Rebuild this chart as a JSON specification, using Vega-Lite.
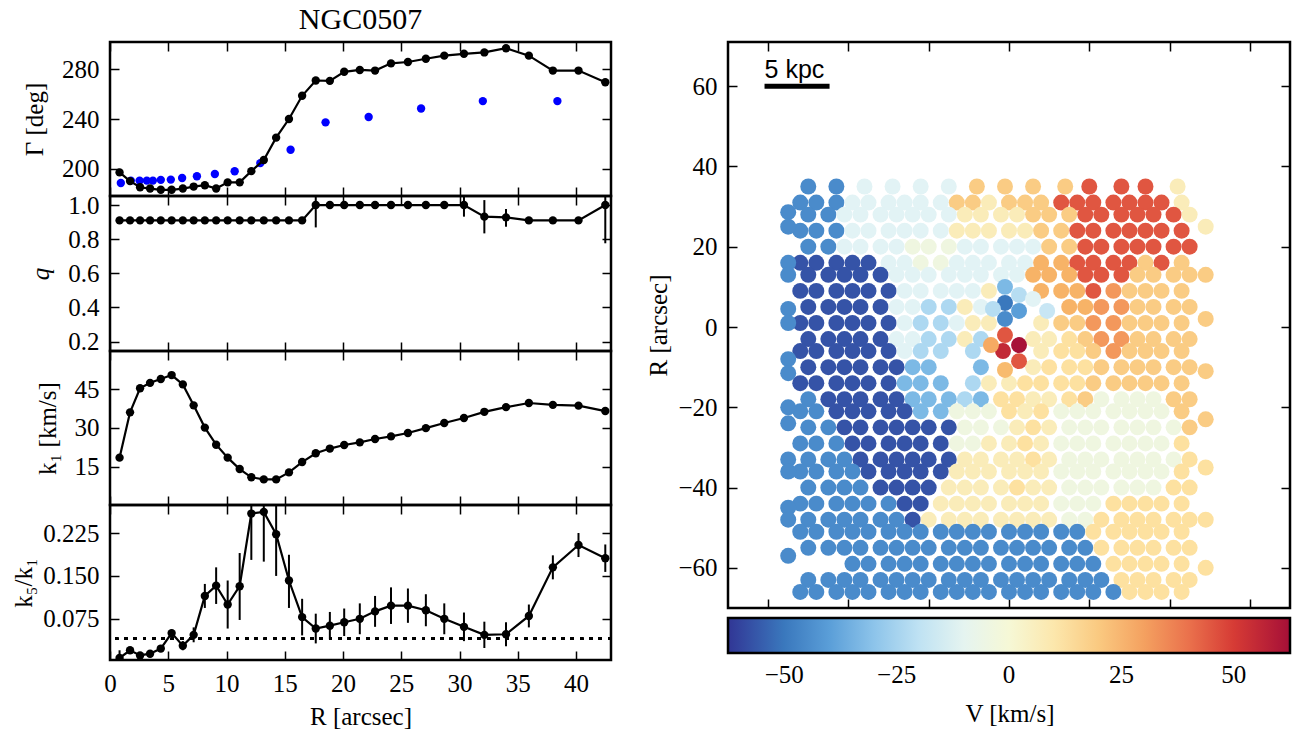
{
"$schema": "https://vega.github.io/schema/vega-lite/v6.json",
"background": "white",
"padding": {"left": 10, "top": 4, "right": 6, "bottom": 4},
"config": {
 "font": "Liberation Serif",
 "view": {"stroke": "black", "strokeWidth": 2.5},
 "style": {"guide-label": {"font": "Liberation Serif", "fill": "black"}, "guide-title": {"font": "Liberation Serif", "fill": "black", "fontWeight": "normal"}},
 "axis": {"domain": false, "grid": false, "ticks": true, "tickColor": "black", "tickWidth": 1.5, "tickSize": -9, "labelPadding": 20, "labelFont": "Liberation Serif", "labelFontSize": 25, "labelColor": "black", "titleFont": "Liberation Serif", "titleFontSize": 25, "titleFontWeight": "normal", "titleColor": "black", "titlePadding": 14, "labelFlush": false, "labelOverlap": false},
 "title": {"font": "Liberation Serif", "fontSize": 30, "fontWeight": "normal", "color": "black"}
},
"datasets": {
 "prof": [
  {"R":0.82,"G":197,"q":0.91,"k1":18.5,"k5":0.0065,"k5lo":-0.004,"k5hi":0.02},
  {"R":1.72,"G":190,"q":0.91,"k1":36.0,"k5":0.020,"k5lo":0.015,"k5hi":0.025},
  {"R":2.58,"G":185,"q":0.91,"k1":45.3,"k5":0.011,"k5lo":0.007,"k5hi":0.015},
  {"R":3.44,"G":184,"q":0.91,"k1":47.4,"k5":0.014,"k5lo":0.010,"k5hi":0.018},
  {"R":4.36,"G":183,"q":0.91,"k1":48.9,"k5":0.023,"k5lo":0.018,"k5hi":0.028},
  {"R":5.29,"G":183,"q":0.91,"k1":50.4,"k5":0.050,"k5lo":0.044,"k5hi":0.056},
  {"R":6.25,"G":184,"q":0.91,"k1":46.8,"k5":0.028,"k5lo":0.020,"k5hi":0.036},
  {"R":7.18,"G":185.6,"q":0.91,"k1":38.7,"k5":0.047,"k5lo":0.034,"k5hi":0.060},
  {"R":8.14,"G":186.7,"q":0.91,"k1":30.1,"k5":0.115,"k5lo":0.094,"k5hi":0.136},
  {"R":9.11,"G":184,"q":0.91,"k1":23.5,"k5":0.133,"k5lo":0.101,"k5hi":0.165},
  {"R":10.10,"G":189,"q":0.91,"k1":18.5,"k5":0.100,"k5lo":0.058,"k5hi":0.142},
  {"R":11.13,"G":189,"q":0.91,"k1":14.1,"k5":0.132,"k5lo":0.073,"k5hi":0.190},
  {"R":12.13,"G":198,"q":0.91,"k1":10.9,"k5":0.259,"k5lo":0.178,"k5hi":0.34},
  {"R":13.20,"G":207,"q":0.91,"k1":10.1,"k5":0.262,"k5lo":0.175,"k5hi":0.35},
  {"R":14.26,"G":225,"q":0.91,"k1":10.1,"k5":0.223,"k5lo":0.150,"k5hi":0.296},
  {"R":15.36,"G":240,"q":0.91,"k1":12.8,"k5":0.142,"k5lo":0.094,"k5hi":0.187},
  {"R":16.49,"G":258.7,"q":0.91,"k1":16.8,"k5":0.078,"k5lo":0.046,"k5hi":0.110},
  {"R":17.66,"G":271,"q":1.0,"k1":20.2,"k5":0.058,"k5lo":0.032,"k5hi":0.084},
  {"R":18.87,"G":270.7,"q":1.0,"k1":22.0,"k5":0.063,"k5lo":0.039,"k5hi":0.087},
  {"R":20.10,"G":278,"q":1.0,"k1":23.4,"k5":0.069,"k5lo":0.045,"k5hi":0.093},
  {"R":21.44,"G":279.5,"q":1.0,"k1":24.4,"k5":0.075,"k5lo":0.048,"k5hi":0.102},
  {"R":22.75,"G":279,"q":1.0,"k1":25.7,"k5":0.088,"k5lo":0.061,"k5hi":0.115},
  {"R":24.12,"G":284.8,"q":1.0,"k1":26.7,"k5":0.098,"k5lo":0.066,"k5hi":0.130},
  {"R":25.57,"G":285.9,"q":1.0,"k1":28.0,"k5":0.098,"k5lo":0.068,"k5hi":0.128},
  {"R":27.11,"G":288.5,"q":1.0,"k1":29.9,"k5":0.090,"k5lo":0.062,"k5hi":0.118},
  {"R":28.69,"G":291,"q":1.0,"k1":31.9,"k5":0.075,"k5lo":0.048,"k5hi":0.102},
  {"R":30.38,"G":292.5,"q":1.0,"k1":33.8,"k5":0.061,"k5lo":0.036,"k5hi":0.086},
  {"R":32.13,"G":293.6,"q":0.932,"k1":36.2,"k5":0.047,"k5lo":0.024,"k5hi":0.070},
  {"R":33.99,"G":297,"q":0.928,"k1":38.0,"k5":0.048,"k5lo":0.027,"k5hi":0.069},
  {"R":35.95,"G":291,"q":0.91,"k1":39.6,"k5":0.080,"k5lo":0.060,"k5hi":0.100},
  {"R":38.01,"G":279,"q":0.91,"k1":38.9,"k5":0.165,"k5lo":0.144,"k5hi":0.186},
  {"R":40.21,"G":279,"q":0.91,"k1":38.6,"k5":0.204,"k5lo":0.183,"k5hi":0.225},
  {"R":42.51,"G":269.6,"q":1.0,"k1":36.5,"k5":0.181,"k5lo":0.157,"k5hi":0.205}
 ],
 "qerr": [
  {"R":17.66,"lo":0.869,"hi":1.131},
  {"R":30.38,"lo":0.932,"hi":1.068},
  {"R":32.13,"lo":0.834,"hi":1.029},
  {"R":33.99,"lo":0.873,"hi":0.977},
  {"R":42.51,"lo":0.776,"hi":1.224}
 ],
 "blue": [
  {"R":0.93,"G":188.5},{"R":1.79,"G":190.4},{"R":2.54,"G":190.4},{"R":3.16,"G":190.4},{"R":3.68,"G":190.4},{"R":4.36,"G":191},{"R":5.22,"G":191.2},{"R":6.19,"G":192.5},{"R":7.46,"G":193.9},{"R":9.0,"G":195.7},{"R":10.7,"G":197.9},{"R":12.9,"G":204.5},{"R":15.5,"G":215.2},{"R":18.5,"G":237.3},{"R":22.2,"G":241.6},{"R":26.7,"G":248.5},{"R":32.0,"G":254.4},{"R":38.4,"G":254.4}
 ],
 "bar": [{"x":-60.9,"x2":-44.7,"y":60,"ty":62,"t":"5 kpc"}],
 "map": [
{"x":-50,"y":35,"v":-45},{"x":-43,"y":35,"v":-45},{"x":-36,"y":35,"v":-12},{"x":-29,"y":35,"v":-12},{"x":-22,"y":35,"v":-12},{"x":-15,"y":35,"v":-12},{"x":-8,"y":35,"v":19},{"x":-1,"y":35,"v":19},{"x":6,"y":35,"v":19},{"x":14,"y":35,"v":19},{"x":20,"y":35,"v":45},{"x":28,"y":35,"v":45},{"x":34,"y":35,"v":45},{"x":42,"y":35,"v":7},
{"x":-52,"y":31,"v":-45},{"x":-48,"y":31,"v":-45},{"x":-43,"y":31,"v":-45},{"x":-39,"y":31,"v":-12},{"x":-35,"y":31,"v":-12},{"x":-30,"y":31,"v":-12},{"x":-26,"y":31,"v":-12},{"x":-22,"y":31,"v":-12},{"x":-17,"y":31,"v":-12},{"x":-13,"y":31,"v":19},{"x":-9,"y":31,"v":19},{"x":-5,"y":31,"v":7},{"x":0,"y":31,"v":19},{"x":4,"y":31,"v":19},{"x":8,"y":31,"v":19},{"x":13,"y":31,"v":45},{"x":17,"y":31,"v":45},{"x":21,"y":31,"v":45},{"x":26,"y":31,"v":45},{"x":30,"y":31,"v":45},{"x":34,"y":31,"v":45},{"x":38,"y":31,"v":45},{"x":43,"y":31,"v":7},
{"x":-50,"y":28,"v":-45},{"x":-45,"y":28,"v":-45},{"x":-41,"y":28,"v":-12},{"x":-37,"y":28,"v":-12},{"x":-32,"y":28,"v":-12},{"x":-28,"y":28,"v":-12},{"x":-24,"y":28,"v":-12},{"x":-20,"y":28,"v":-12},{"x":-15,"y":28,"v":-12},{"x":-11,"y":28,"v":7},{"x":-7,"y":28,"v":7},{"x":-2,"y":28,"v":7},{"x":2,"y":28,"v":7},{"x":6,"y":28,"v":19},{"x":10,"y":28,"v":19},{"x":15,"y":28,"v":19},{"x":19,"y":28,"v":45},{"x":23,"y":28,"v":45},{"x":28,"y":28,"v":45},{"x":32,"y":28,"v":45},{"x":36,"y":28,"v":45},{"x":41,"y":28,"v":45},{"x":45,"y":28,"v":7},
{"x":-52,"y":24,"v":-45},{"x":-48,"y":24,"v":-45},{"x":-43,"y":24,"v":-45},{"x":-39,"y":24,"v":-12},{"x":-35,"y":24,"v":-12},{"x":-30,"y":24,"v":-12},{"x":-26,"y":24,"v":-12},{"x":-22,"y":24,"v":-12},{"x":-17,"y":24,"v":-12},{"x":-13,"y":24,"v":7},{"x":-9,"y":24,"v":7},{"x":-5,"y":24,"v":7},{"x":0,"y":24,"v":7},{"x":4,"y":24,"v":7},{"x":8,"y":24,"v":19},{"x":13,"y":24,"v":19},{"x":17,"y":24,"v":45},{"x":21,"y":24,"v":45},{"x":26,"y":24,"v":45},{"x":30,"y":24,"v":45},{"x":34,"y":24,"v":45},{"x":38,"y":24,"v":45},{"x":43,"y":24,"v":45},
{"x":-50,"y":20,"v":-45},{"x":-45,"y":20,"v":-45},{"x":-41,"y":20,"v":-12},{"x":-37,"y":20,"v":-12},{"x":-32,"y":20,"v":-12},{"x":-28,"y":20,"v":-12},{"x":-24,"y":20,"v":-4},{"x":-20,"y":20,"v":-4},{"x":-15,"y":20,"v":-4},{"x":-11,"y":20,"v":-12},{"x":-7,"y":20,"v":-12},{"x":-2,"y":20,"v":-12},{"x":2,"y":20,"v":-12},{"x":6,"y":20,"v":-12},{"x":10,"y":20,"v":19},{"x":15,"y":20,"v":19},{"x":19,"y":20,"v":45},{"x":23,"y":20,"v":45},{"x":28,"y":20,"v":45},{"x":32,"y":20,"v":45},{"x":36,"y":20,"v":45},{"x":41,"y":20,"v":45},{"x":45,"y":20,"v":45},
{"x":-52,"y":16,"v":-57},{"x":-48,"y":16,"v":-57},{"x":-43,"y":16,"v":-57},{"x":-39,"y":16,"v":-57},{"x":-35,"y":16,"v":-57},{"x":-30,"y":16,"v":-12},{"x":-26,"y":16,"v":-12},{"x":-22,"y":16,"v":-4},{"x":-17,"y":16,"v":-4},{"x":-13,"y":16,"v":-12},{"x":-9,"y":16,"v":-12},{"x":-5,"y":16,"v":-12},{"x":0,"y":16,"v":-12},{"x":4,"y":16,"v":-12},{"x":8,"y":16,"v":26},{"x":13,"y":16,"v":26},{"x":17,"y":16,"v":45},{"x":21,"y":16,"v":45},{"x":26,"y":16,"v":45},{"x":30,"y":16,"v":45},{"x":34,"y":16,"v":19},{"x":38,"y":16,"v":45},{"x":43,"y":16,"v":19},
{"x":-50,"y":13,"v":-57},{"x":-45,"y":13,"v":-57},{"x":-41,"y":13,"v":-57},{"x":-37,"y":13,"v":-57},{"x":-32,"y":13,"v":-57},{"x":-28,"y":13,"v":-12},{"x":-24,"y":13,"v":-12},{"x":-20,"y":13,"v":-12},{"x":-15,"y":13,"v":-12},{"x":-11,"y":13,"v":-12},{"x":-7,"y":13,"v":-12},{"x":-2,"y":13,"v":-12},{"x":2,"y":13,"v":-12},{"x":6,"y":13,"v":26},{"x":10,"y":13,"v":26},{"x":15,"y":13,"v":26},{"x":19,"y":13,"v":45},{"x":23,"y":13,"v":45},{"x":28,"y":13,"v":45},{"x":32,"y":13,"v":19},{"x":36,"y":13,"v":19},{"x":41,"y":13,"v":19},{"x":45,"y":13,"v":19},
{"x":-52,"y":9,"v":-57},{"x":-48,"y":9,"v":-57},{"x":-43,"y":9,"v":-57},{"x":-39,"y":9,"v":-57},{"x":-35,"y":9,"v":-57},{"x":-30,"y":9,"v":-57},{"x":-26,"y":9,"v":-12},{"x":-22,"y":9,"v":-12},{"x":-17,"y":9,"v":-12},{"x":-13,"y":9,"v":-12},{"x":-9,"y":9,"v":-12},{"x":-5,"y":9,"v":7},{"x":8,"y":9,"v":26},{"x":13,"y":9,"v":26},{"x":17,"y":9,"v":26},{"x":21,"y":9,"v":45},{"x":26,"y":9,"v":32},{"x":30,"y":9,"v":19},{"x":34,"y":9,"v":19},{"x":38,"y":9,"v":19},{"x":43,"y":9,"v":19},
{"x":-50,"y":5,"v":-57},{"x":-45,"y":5,"v":-57},{"x":-41,"y":5,"v":-57},{"x":-37,"y":5,"v":-57},{"x":-32,"y":5,"v":-57},{"x":-28,"y":5,"v":-12},{"x":-24,"y":5,"v":-12},{"x":-20,"y":5,"v":-24},{"x":-15,"y":5,"v":-24},{"x":-11,"y":5,"v":7},{"x":-7,"y":5,"v":-12},{"x":15,"y":5,"v":26},{"x":19,"y":5,"v":26},{"x":23,"y":5,"v":32},{"x":28,"y":5,"v":32},{"x":32,"y":5,"v":19},{"x":36,"y":5,"v":19},{"x":41,"y":5,"v":19},{"x":45,"y":5,"v":19},
{"x":-52,"y":1,"v":-57},{"x":-48,"y":1,"v":-57},{"x":-43,"y":1,"v":-57},{"x":-39,"y":1,"v":-57},{"x":-35,"y":1,"v":-57},{"x":-30,"y":1,"v":-57},{"x":-26,"y":1,"v":-12},{"x":-22,"y":1,"v":-24},{"x":-17,"y":1,"v":-24},{"x":-13,"y":1,"v":-12},{"x":-9,"y":1,"v":7},{"x":-5,"y":1,"v":7},{"x":8,"y":1,"v":7},{"x":13,"y":1,"v":19},{"x":17,"y":1,"v":19},{"x":21,"y":1,"v":32},{"x":26,"y":1,"v":32},{"x":30,"y":1,"v":19},{"x":34,"y":1,"v":19},{"x":38,"y":1,"v":19},{"x":43,"y":1,"v":19},
{"x":-50,"y":-3,"v":-57},{"x":-45,"y":-3,"v":-57},{"x":-41,"y":-3,"v":-57},{"x":-37,"y":-3,"v":-57},{"x":-32,"y":-3,"v":-57},{"x":-28,"y":-3,"v":-12},{"x":-24,"y":-3,"v":-12},{"x":-20,"y":-3,"v":-24},{"x":-15,"y":-3,"v":-24},{"x":-11,"y":-3,"v":7},{"x":-7,"y":-3,"v":-24},{"x":6,"y":-3,"v":7},{"x":10,"y":-3,"v":7},{"x":15,"y":-3,"v":13},{"x":19,"y":-3,"v":19},{"x":23,"y":-3,"v":32},{"x":28,"y":-3,"v":32},{"x":32,"y":-3,"v":19},{"x":36,"y":-3,"v":19},{"x":41,"y":-3,"v":19},{"x":45,"y":-3,"v":19},
{"x":-52,"y":-6,"v":-57},{"x":-48,"y":-6,"v":-57},{"x":-43,"y":-6,"v":-57},{"x":-39,"y":-6,"v":-57},{"x":-35,"y":-6,"v":-57},{"x":-30,"y":-6,"v":-57},{"x":-26,"y":-6,"v":-12},{"x":-22,"y":-6,"v":-24},{"x":-17,"y":-6,"v":-24},{"x":-9,"y":-6,"v":-24},{"x":8,"y":-6,"v":7},{"x":13,"y":-6,"v":13},{"x":17,"y":-6,"v":13},{"x":21,"y":-6,"v":19},{"x":26,"y":-6,"v":32},{"x":30,"y":-6,"v":19},{"x":34,"y":-6,"v":19},{"x":38,"y":-6,"v":19},{"x":43,"y":-6,"v":19},
{"x":-50,"y":-10,"v":-57},{"x":-45,"y":-10,"v":-57},{"x":-41,"y":-10,"v":-57},{"x":-37,"y":-10,"v":-57},{"x":-32,"y":-10,"v":-57},{"x":-28,"y":-10,"v":-57},{"x":-24,"y":-10,"v":-33},{"x":-20,"y":-10,"v":-33},{"x":-7,"y":-10,"v":-33},{"x":6,"y":-10,"v":7},{"x":10,"y":-10,"v":13},{"x":15,"y":-10,"v":13},{"x":19,"y":-10,"v":13},{"x":23,"y":-10,"v":19},{"x":28,"y":-10,"v":19},{"x":32,"y":-10,"v":19},{"x":36,"y":-10,"v":19},{"x":41,"y":-10,"v":19},{"x":45,"y":-10,"v":19},
{"x":-52,"y":-14,"v":-57},{"x":-48,"y":-14,"v":-57},{"x":-43,"y":-14,"v":-57},{"x":-39,"y":-14,"v":-57},{"x":-35,"y":-14,"v":-57},{"x":-30,"y":-14,"v":-57},{"x":-26,"y":-14,"v":-33},{"x":-22,"y":-14,"v":-33},{"x":-17,"y":-14,"v":-33},{"x":-9,"y":-14,"v":-24},{"x":-5,"y":-14,"v":7},{"x":0,"y":-14,"v":7},{"x":4,"y":-14,"v":13},{"x":8,"y":-14,"v":13},{"x":13,"y":-14,"v":13},{"x":17,"y":-14,"v":13},{"x":21,"y":-14,"v":19},{"x":26,"y":-14,"v":19},{"x":30,"y":-14,"v":19},{"x":34,"y":-14,"v":19},{"x":38,"y":-14,"v":19},{"x":43,"y":-14,"v":19},
{"x":-50,"y":-18,"v":-45},{"x":-45,"y":-18,"v":-57},{"x":-41,"y":-18,"v":-57},{"x":-37,"y":-18,"v":-57},{"x":-32,"y":-18,"v":-57},{"x":-28,"y":-18,"v":-57},{"x":-24,"y":-18,"v":-33},{"x":-20,"y":-18,"v":-33},{"x":-15,"y":-18,"v":-33},{"x":-11,"y":-18,"v":-24},{"x":-7,"y":-18,"v":-33},{"x":-2,"y":-18,"v":13},{"x":2,"y":-18,"v":13},{"x":6,"y":-18,"v":7},{"x":10,"y":-18,"v":7},{"x":15,"y":-18,"v":13},{"x":19,"y":-18,"v":19},{"x":23,"y":-18,"v":-4},{"x":28,"y":-18,"v":-4},{"x":32,"y":-18,"v":-4},{"x":36,"y":-18,"v":-4},{"x":41,"y":-18,"v":19},{"x":45,"y":-18,"v":19},
{"x":-52,"y":-21,"v":-45},{"x":-48,"y":-21,"v":-45},{"x":-43,"y":-21,"v":-57},{"x":-39,"y":-21,"v":-57},{"x":-35,"y":-21,"v":-57},{"x":-30,"y":-21,"v":-57},{"x":-26,"y":-21,"v":-57},{"x":-22,"y":-21,"v":-33},{"x":-17,"y":-21,"v":-33},{"x":-13,"y":-21,"v":-4},{"x":-9,"y":-21,"v":-4},{"x":-5,"y":-21,"v":-4},{"x":0,"y":-21,"v":13},{"x":4,"y":-21,"v":7},{"x":8,"y":-21,"v":13},{"x":13,"y":-21,"v":-4},{"x":17,"y":-21,"v":-4},{"x":21,"y":-21,"v":-4},{"x":26,"y":-21,"v":-4},{"x":30,"y":-21,"v":-4},{"x":34,"y":-21,"v":-4},{"x":38,"y":-21,"v":-4},{"x":43,"y":-21,"v":19},
{"x":-50,"y":-25,"v":-45},{"x":-45,"y":-25,"v":-45},{"x":-41,"y":-25,"v":-57},{"x":-37,"y":-25,"v":-57},{"x":-32,"y":-25,"v":-57},{"x":-28,"y":-25,"v":-57},{"x":-24,"y":-25,"v":-57},{"x":-20,"y":-25,"v":-57},{"x":-15,"y":-25,"v":-57},{"x":-11,"y":-25,"v":-4},{"x":-7,"y":-25,"v":-4},{"x":-2,"y":-25,"v":-4},{"x":2,"y":-25,"v":7},{"x":6,"y":-25,"v":13},{"x":10,"y":-25,"v":7},{"x":15,"y":-25,"v":-4},{"x":19,"y":-25,"v":-4},{"x":23,"y":-25,"v":-4},{"x":28,"y":-25,"v":-4},{"x":32,"y":-25,"v":-4},{"x":36,"y":-25,"v":-4},{"x":41,"y":-25,"v":-4},{"x":45,"y":-25,"v":19},
{"x":-52,"y":-29,"v":-45},{"x":-48,"y":-29,"v":-45},{"x":-43,"y":-29,"v":-45},{"x":-39,"y":-29,"v":-57},{"x":-35,"y":-29,"v":-57},{"x":-30,"y":-29,"v":-57},{"x":-26,"y":-29,"v":-57},{"x":-22,"y":-29,"v":-57},{"x":-17,"y":-29,"v":-57},{"x":-13,"y":-29,"v":-4},{"x":-9,"y":-29,"v":-4},{"x":-5,"y":-29,"v":7},{"x":0,"y":-29,"v":7},{"x":4,"y":-29,"v":13},{"x":8,"y":-29,"v":7},{"x":13,"y":-29,"v":-4},{"x":17,"y":-29,"v":-4},{"x":21,"y":-29,"v":-4},{"x":26,"y":-29,"v":-4},{"x":30,"y":-29,"v":-4},{"x":34,"y":-29,"v":-4},{"x":38,"y":-29,"v":-4},{"x":43,"y":-29,"v":13},
{"x":-50,"y":-33,"v":-45},{"x":-45,"y":-33,"v":-45},{"x":-41,"y":-33,"v":-45},{"x":-37,"y":-33,"v":-57},{"x":-32,"y":-33,"v":-57},{"x":-28,"y":-33,"v":-57},{"x":-24,"y":-33,"v":-57},{"x":-20,"y":-33,"v":-57},{"x":-15,"y":-33,"v":-57},{"x":-11,"y":-33,"v":7},{"x":-7,"y":-33,"v":7},{"x":-2,"y":-33,"v":7},{"x":2,"y":-33,"v":7},{"x":6,"y":-33,"v":13},{"x":10,"y":-33,"v":7},{"x":15,"y":-33,"v":-4},{"x":19,"y":-33,"v":-4},{"x":23,"y":-33,"v":-4},{"x":28,"y":-33,"v":-4},{"x":32,"y":-33,"v":-4},{"x":36,"y":-33,"v":-4},{"x":41,"y":-33,"v":-4},{"x":45,"y":-33,"v":13},
{"x":-52,"y":-36,"v":-45},{"x":-48,"y":-36,"v":-45},{"x":-43,"y":-36,"v":-45},{"x":-39,"y":-36,"v":-45},{"x":-35,"y":-36,"v":-57},{"x":-30,"y":-36,"v":-57},{"x":-26,"y":-36,"v":-57},{"x":-22,"y":-36,"v":-57},{"x":-17,"y":-36,"v":-57},{"x":-13,"y":-36,"v":7},{"x":-9,"y":-36,"v":7},{"x":-5,"y":-36,"v":7},{"x":0,"y":-36,"v":7},{"x":4,"y":-36,"v":7},{"x":8,"y":-36,"v":7},{"x":13,"y":-36,"v":-4},{"x":17,"y":-36,"v":-4},{"x":21,"y":-36,"v":-4},{"x":26,"y":-36,"v":-4},{"x":30,"y":-36,"v":-4},{"x":34,"y":-36,"v":-4},{"x":38,"y":-36,"v":-4},{"x":43,"y":-36,"v":13},
{"x":-50,"y":-40,"v":-45},{"x":-45,"y":-40,"v":-45},{"x":-41,"y":-40,"v":-45},{"x":-37,"y":-40,"v":-45},{"x":-32,"y":-40,"v":-57},{"x":-28,"y":-40,"v":-57},{"x":-24,"y":-40,"v":-57},{"x":-20,"y":-40,"v":-57},{"x":-15,"y":-40,"v":7},{"x":-11,"y":-40,"v":7},{"x":-7,"y":-40,"v":7},{"x":-2,"y":-40,"v":7},{"x":2,"y":-40,"v":13},{"x":6,"y":-40,"v":7},{"x":10,"y":-40,"v":7},{"x":15,"y":-40,"v":-4},{"x":19,"y":-40,"v":-4},{"x":23,"y":-40,"v":-4},{"x":28,"y":-40,"v":-4},{"x":32,"y":-40,"v":-4},{"x":36,"y":-40,"v":-4},{"x":41,"y":-40,"v":13},{"x":45,"y":-40,"v":13},
{"x":-52,"y":-44,"v":-45},{"x":-48,"y":-44,"v":-45},{"x":-43,"y":-44,"v":-45},{"x":-39,"y":-44,"v":-45},{"x":-35,"y":-44,"v":-45},{"x":-30,"y":-44,"v":-45},{"x":-26,"y":-44,"v":-57},{"x":-22,"y":-44,"v":-57},{"x":-17,"y":-44,"v":7},{"x":-13,"y":-44,"v":7},{"x":-9,"y":-44,"v":7},{"x":-5,"y":-44,"v":7},{"x":0,"y":-44,"v":7},{"x":4,"y":-44,"v":7},{"x":8,"y":-44,"v":7},{"x":13,"y":-44,"v":-4},{"x":17,"y":-44,"v":-4},{"x":21,"y":-44,"v":-4},{"x":26,"y":-44,"v":13},{"x":30,"y":-44,"v":13},{"x":34,"y":-44,"v":13},{"x":38,"y":-44,"v":13},{"x":43,"y":-44,"v":13},
{"x":-50,"y":-48,"v":-45},{"x":-45,"y":-48,"v":-45},{"x":-41,"y":-48,"v":-45},{"x":-37,"y":-48,"v":-45},{"x":-32,"y":-48,"v":-45},{"x":-28,"y":-48,"v":-45},{"x":-24,"y":-48,"v":-57},{"x":-20,"y":-48,"v":7},{"x":-15,"y":-48,"v":7},{"x":-11,"y":-48,"v":7},{"x":-7,"y":-48,"v":7},{"x":-2,"y":-48,"v":7},{"x":2,"y":-48,"v":7},{"x":6,"y":-48,"v":7},{"x":10,"y":-48,"v":7},{"x":15,"y":-48,"v":-4},{"x":19,"y":-48,"v":-4},{"x":23,"y":-48,"v":13},{"x":28,"y":-48,"v":13},{"x":32,"y":-48,"v":13},{"x":36,"y":-48,"v":13},{"x":41,"y":-48,"v":13},{"x":45,"y":-48,"v":13},
{"x":-52,"y":-51,"v":-45},{"x":-48,"y":-51,"v":-45},{"x":-43,"y":-51,"v":-45},{"x":-39,"y":-51,"v":-45},{"x":-35,"y":-51,"v":-45},{"x":-30,"y":-51,"v":-45},{"x":-26,"y":-51,"v":-45},{"x":-22,"y":-51,"v":-45},{"x":-17,"y":-51,"v":-45},{"x":-13,"y":-51,"v":-45},{"x":-9,"y":-51,"v":-45},{"x":-5,"y":-51,"v":-45},{"x":0,"y":-51,"v":-45},{"x":4,"y":-51,"v":-45},{"x":8,"y":-51,"v":-45},{"x":13,"y":-51,"v":-45},{"x":17,"y":-51,"v":-45},{"x":21,"y":-51,"v":13},{"x":26,"y":-51,"v":13},{"x":30,"y":-51,"v":13},{"x":34,"y":-51,"v":13},{"x":38,"y":-51,"v":13},{"x":43,"y":-51,"v":13},
{"x":-50,"y":-55,"v":-45},{"x":-45,"y":-55,"v":-45},{"x":-41,"y":-55,"v":-45},{"x":-37,"y":-55,"v":-45},{"x":-32,"y":-55,"v":-45},{"x":-28,"y":-55,"v":-45},{"x":-24,"y":-55,"v":-45},{"x":-20,"y":-55,"v":-45},{"x":-15,"y":-55,"v":-45},{"x":-11,"y":-55,"v":-45},{"x":-7,"y":-55,"v":-45},{"x":-2,"y":-55,"v":-45},{"x":2,"y":-55,"v":-45},{"x":6,"y":-55,"v":-45},{"x":10,"y":-55,"v":-45},{"x":15,"y":-55,"v":-45},{"x":19,"y":-55,"v":-45},{"x":23,"y":-55,"v":13},{"x":28,"y":-55,"v":13},{"x":32,"y":-55,"v":13},{"x":36,"y":-55,"v":13},{"x":41,"y":-55,"v":13},{"x":45,"y":-55,"v":13},
{"x":-39,"y":-59,"v":-45},{"x":-35,"y":-59,"v":-45},{"x":-30,"y":-59,"v":-45},{"x":-26,"y":-59,"v":-45},{"x":-22,"y":-59,"v":-45},{"x":-17,"y":-59,"v":-45},{"x":-13,"y":-59,"v":-45},{"x":-9,"y":-59,"v":-45},{"x":-5,"y":-59,"v":-45},{"x":0,"y":-59,"v":-45},{"x":4,"y":-59,"v":-45},{"x":8,"y":-59,"v":-45},{"x":13,"y":-59,"v":-45},{"x":17,"y":-59,"v":-45},{"x":21,"y":-59,"v":-45},{"x":26,"y":-59,"v":13},{"x":30,"y":-59,"v":13},{"x":34,"y":-59,"v":13},{"x":38,"y":-59,"v":13},{"x":43,"y":-59,"v":13},
{"x":-50,"y":-63,"v":-45},{"x":-45,"y":-63,"v":-45},{"x":-41,"y":-63,"v":-45},{"x":-37,"y":-63,"v":-45},{"x":-32,"y":-63,"v":-45},{"x":-28,"y":-63,"v":-45},{"x":-24,"y":-63,"v":-45},{"x":-20,"y":-63,"v":-45},{"x":-15,"y":-63,"v":-45},{"x":-11,"y":-63,"v":-45},{"x":-7,"y":-63,"v":-45},{"x":-2,"y":-63,"v":-45},{"x":2,"y":-63,"v":-45},{"x":6,"y":-63,"v":-45},{"x":10,"y":-63,"v":-45},{"x":15,"y":-63,"v":-45},{"x":19,"y":-63,"v":-45},{"x":23,"y":-63,"v":-45},{"x":28,"y":-63,"v":13},{"x":32,"y":-63,"v":13},{"x":36,"y":-63,"v":13},{"x":41,"y":-63,"v":13},{"x":45,"y":-63,"v":13},
{"x":-52,"y":-66,"v":-45},{"x":-48,"y":-66,"v":-45},{"x":-43,"y":-66,"v":-45},{"x":-39,"y":-66,"v":-45},{"x":-35,"y":-66,"v":-45},{"x":-30,"y":-66,"v":-45},{"x":-26,"y":-66,"v":-45},{"x":-22,"y":-66,"v":-45},{"x":-17,"y":-66,"v":-45},{"x":-13,"y":-66,"v":-45},{"x":-9,"y":-66,"v":-45},{"x":-5,"y":-66,"v":-45},{"x":0,"y":-66,"v":-45},{"x":4,"y":-66,"v":-45},{"x":8,"y":-66,"v":-45},{"x":13,"y":-66,"v":-45},{"x":17,"y":-66,"v":-45},{"x":21,"y":-66,"v":-45},{"x":26,"y":-66,"v":-45},{"x":30,"y":-66,"v":13},{"x":34,"y":-66,"v":13},{"x":38,"y":-66,"v":13},{"x":43,"y":-66,"v":13},
{"x":-55,"y":28.6,"v":-45},{"x":-55,"y":25,"v":-45},{"x":-55,"y":16,"v":-45},{"x":-55,"y":13,"v":-45},{"x":-55,"y":4.5,"v":-45},{"x":-55,"y":1,"v":-45},{"x":-55,"y":-8,"v":-45},{"x":-55,"y":-11.5,"v":-45},{"x":-55,"y":-20,"v":-45},{"x":-55,"y":-24,"v":-45},{"x":-55,"y":-33,"v":-45},{"x":-55,"y":-36,"v":-45},{"x":-55,"y":-45,"v":-45},{"x":-55,"y":-48,"v":-45},{"x":-55,"y":-57,"v":-45},
{"x":49,"y":25,"v":7},{"x":49,"y":13,"v":19},{"x":49,"y":2,"v":19},{"x":49,"y":-11,"v":19},{"x":49,"y":-23,"v":19},{"x":49,"y":-35,"v":13},{"x":49,"y":-48,"v":13},{"x":49,"y":-60,"v":13},
{"x":-1,"y":10,"v":-33},{"x":-1,"y":6,"v":-50},{"x":-1,"y":2,"v":-45},{"x":2.5,"y":4,"v":-40},{"x":2.5,"y":8,"v":-22},{"x":6,"y":7,"v":-12},{"x":9.5,"y":4,"v":-18},{"x":-4,"y":4.5,"v":-22},{"x":-1,"y":-2,"v":45},{"x":-1.5,"y":-6,"v":55},{"x":2.5,"y":-4.5,"v":62},{"x":2.5,"y":-8.5,"v":45},{"x":-4.5,"y":-4.5,"v":28},{"x":-1,"y":-10.7,"v":24}
 ]
},
"hconcat": [
 {"spacing": 0, "bounds": "flush", "vconcat": [
  {"width": 501, "height": 154,
   "title": {"text": "NGC0507", "anchor": "middle", "offset": 6},
   "layer": [
    {"data": {"name": "blue"}, "mark": {"type": "circle", "color": "#0000ff", "size": 70, "opacity": 1, "clip": true},
     "encoding": {"x": {"field": "R", "type": "quantitative", "scale": {"domain": [0, 43], "nice": false}, "axis": {"values": [0,5,10,15,20,25,30,35,40], "labels": false, "title": null}},
                  "y": {"field": "G", "type": "quantitative", "scale": {"domain": [178, 302], "nice": false, "zero": false}, "axis": {"values": [200,240,280], "title": "Γ [deg]"}}}},
    {"data": {"name": "prof"}, "mark": {"type": "line", "color": "black", "strokeWidth": 2.2, "clip": true},
     "encoding": {"x": {"field": "R", "type": "quantitative", "axis": null}, "y": {"field": "G", "type": "quantitative", "axis": null}}},
    {"data": {"name": "prof"}, "mark": {"type": "circle", "color": "black", "size": 70, "opacity": 1, "clip": true},
     "encoding": {"x": {"field": "R", "type": "quantitative", "axis": null}, "y": {"field": "G", "type": "quantitative", "axis": null}}},
    {"data": {"name": "prof"}, "mark": {"type": "point", "opacity": 0, "clip": true},
     "encoding": {"x": {"field": "R", "type": "quantitative", "axis": {"orient": "top", "values": [0,5,10,15,20,25,30,35,40], "labels": false, "title": null}},
                  "y": {"field": "G", "type": "quantitative", "axis": {"orient": "right", "values": [200,240,280], "labels": false, "title": null}}}}
   ],
   "resolve": {"axis": {"x": "independent", "y": "independent"}}
  },
  {"width": 501, "height": 155,
   "layer": [
    {"data": {"name": "prof"}, "mark": {"type": "line", "color": "black", "strokeWidth": 2.2, "clip": true},
     "encoding": {"x": {"field": "R", "type": "quantitative", "scale": {"domain": [0, 43], "nice": false}, "axis": {"values": [0,5,10,15,20,25,30,35,40], "labels": false, "title": null}},
                  "y": {"field": "q", "type": "quantitative", "scale": {"domain": [0.145, 1.053], "nice": false, "zero": false}, "axis": {"values": [0.2,0.4,0.6,0.8,1.0], "format": ".1f", "title": "q", "titleFontStyle": "italic"}}}},
    {"data": {"name": "qerr"}, "mark": {"type": "rule", "color": "black", "strokeWidth": 2, "clip": true},
     "encoding": {"x": {"field": "R", "type": "quantitative", "axis": null}, "y": {"field": "lo", "type": "quantitative", "axis": null}, "y2": {"field": "hi"}}},
    {"data": {"name": "prof"}, "mark": {"type": "circle", "color": "black", "size": 70, "opacity": 1, "clip": true},
     "encoding": {"x": {"field": "R", "type": "quantitative", "axis": null}, "y": {"field": "q", "type": "quantitative", "axis": null}}},
    {"data": {"name": "prof"}, "mark": {"type": "point", "opacity": 0, "clip": true},
     "encoding": {"x": {"field": "R", "type": "quantitative", "axis": {"orient": "top", "values": [0,5,10,15,20,25,30,35,40], "labels": false, "title": null}},
                  "y": {"field": "q", "type": "quantitative", "axis": {"orient": "right", "values": [0.2,0.4,0.6,0.8,1.0], "labels": false, "title": null}}}}
   ],
   "resolve": {"axis": {"x": "independent", "y": "independent"}}
  },
  {"width": 501, "height": 154,
   "layer": [
    {"data": {"name": "prof"}, "mark": {"type": "line", "color": "black", "strokeWidth": 2.2, "clip": true},
     "encoding": {"x": {"field": "R", "type": "quantitative", "scale": {"domain": [0, 43], "nice": false}, "axis": {"values": [0,5,10,15,20,25,30,35,40], "labels": false, "title": null}},
                  "y": {"field": "k1", "type": "quantitative", "scale": {"domain": [0.2, 59.7], "nice": false, "zero": false}, "axis": {"values": [15,30,45], "title": "k₁ [km/s]"}}}},
    {"data": {"name": "prof"}, "mark": {"type": "circle", "color": "black", "size": 70, "opacity": 1, "clip": true},
     "encoding": {"x": {"field": "R", "type": "quantitative", "axis": null}, "y": {"field": "k1", "type": "quantitative", "axis": null}}},
    {"data": {"name": "prof"}, "mark": {"type": "point", "opacity": 0, "clip": true},
     "encoding": {"x": {"field": "R", "type": "quantitative", "axis": {"orient": "top", "values": [0,5,10,15,20,25,30,35,40], "labels": false, "title": null}},
                  "y": {"field": "k1", "type": "quantitative", "axis": {"orient": "right", "values": [15,30,45], "labels": false, "title": null}}}}
   ],
   "resolve": {"axis": {"x": "independent", "y": "independent"}}
  },
  {"width": 501, "height": 155,
   "layer": [
    {"data": {"name": "prof"}, "mark": {"type": "line", "color": "black", "strokeWidth": 2.2, "clip": true},
     "encoding": {"x": {"field": "R", "type": "quantitative", "scale": {"domain": [0, 43], "nice": false}, "axis": {"values": [0,5,10,15,20,25,30,35,40], "title": "R [arcsec]", "titlePadding": 8}},
                  "y": {"field": "k5", "type": "quantitative", "scale": {"domain": [0.003, 0.274], "nice": false, "zero": false}, "axis": {"values": [0.075,0.15,0.225], "format": ".3f", "title": "k₅/k₁", "titlePadding": 6}}}},
    {"data": {"name": "prof"}, "mark": {"type": "rule", "color": "black", "strokeWidth": 2, "clip": true},
     "encoding": {"x": {"field": "R", "type": "quantitative", "axis": null}, "y": {"field": "k5lo", "type": "quantitative", "axis": null}, "y2": {"field": "k5hi"}}},
    {"data": {"name": "prof"}, "mark": {"type": "rule", "color": "black", "strokeWidth": 2.5, "strokeDash": [3, 6.3], "clip": true},
     "encoding": {"y": {"datum": 0.04, "type": "quantitative", "axis": null}}},
    {"data": {"name": "prof"}, "mark": {"type": "circle", "color": "black", "size": 70, "opacity": 1, "clip": true},
     "encoding": {"x": {"field": "R", "type": "quantitative", "axis": null}, "y": {"field": "k5", "type": "quantitative", "axis": null}}},
    {"data": {"name": "prof"}, "mark": {"type": "point", "opacity": 0, "clip": true},
     "encoding": {"x": {"field": "R", "type": "quantitative", "axis": {"orient": "top", "values": [0,5,10,15,20,25,30,35,40], "labels": false, "title": null}},
                  "y": {"field": "k5", "type": "quantitative", "axis": {"orient": "right", "values": [0.075,0.15,0.225], "labels": false, "title": null}}}}
   ],
   "resolve": {"axis": {"x": "independent", "y": "independent"}}
  }
 ]},
 {"width": 562, "height": 566,
  "layer": [
   {"data": {"name": "map"}, "mark": {"type": "circle", "size": 255, "opacity": 1},
    "encoding": {"x": {"field": "x", "type": "quantitative", "scale": {"domain": [-70, 70], "nice": false}, "axis": {"values": [-60,-40,-20,0,20,40,60], "labels": false, "title": null}},
                 "y": {"field": "y", "type": "quantitative", "scale": {"domain": [-70, 71], "nice": false}, "axis": {"values": [-60,-40,-20,0,20,40,60], "title": "R [arcsec]", "titlePadding": 6}},
                 "color": {"field": "v", "type": "quantitative",
                   "scale": {"domain": [-62.5,-50,-37.5,-25,-12.5,0,12.5,25,37.5,50,62.5], "range": ["#313695","#3a78bd","#62a8df","#a9d6f1","#e1f3f6","#f6f8d6","#fde3a2","#f8b769","#ef7f52","#d63b35","#a50f37"], "interpolate": "rgb"},
                   "legend": {"orient": "none", "legendX": 618, "legendY": 576, "direction": "horizontal", "gradientLength": 562, "gradientThickness": 35, "gradientStrokeColor": "black", "gradientStrokeWidth": 2.5, "values": [-50,-25,0,25,50], "format": "d", "labelFont": "Liberation Serif", "labelFontSize": 25, "labelColor": "black", "labelOffset": 10, "title": "V [km/s]", "titleOrient": "bottom", "titleAnchor": "middle", "titleFont": "Liberation Serif", "titleFontSize": 25, "titleFontWeight": "normal", "titleColor": "black", "titlePadding": 14}}}},
   {"data": {"name": "bar"}, "mark": {"type": "rule", "color": "black", "strokeWidth": 5},
    "encoding": {"x": {"field": "x", "type": "quantitative", "axis": null}, "x2": {"field": "x2"}, "y": {"field": "y", "type": "quantitative", "axis": null}}},
   {"data": {"name": "bar"}, "mark": {"type": "text", "font": "Liberation Sans", "fontSize": 25, "align": "left", "baseline": "alphabetic", "color": "black"},
    "encoding": {"x": {"field": "x", "type": "quantitative", "axis": null}, "y": {"field": "ty", "type": "quantitative", "axis": null}, "text": {"field": "t"}}},
   {"data": {"name": "bar"}, "mark": {"type": "point", "opacity": 0, "clip": true},
    "encoding": {"x": {"field": "x", "type": "quantitative", "axis": {"orient": "top", "values": [-60,-40,-20,0,20,40,60], "labels": false, "title": null}},
                 "y": {"field": "y", "type": "quantitative", "axis": {"orient": "right", "values": [-60,-40,-20,0,20,40,60], "labels": false, "title": null}}}}
  ],
  "resolve": {"axis": {"x": "independent", "y": "independent"}}
 }
],
"spacing": 32
}
